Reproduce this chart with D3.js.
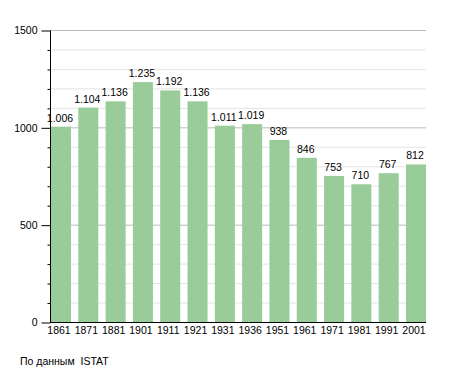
<!DOCTYPE html>
<html>
<head>
<meta charset="utf-8">
<script src="https://cdn.jsdelivr.net/npm/d3@7"></script>
<style>
  body { margin: 0; background: #fff; }
  text { font-family: "Liberation Sans", Arial, sans-serif; font-size: 10.5px; fill: #000; }
</style>
</head>
<body>
<div class="chart"></div>
<script>
var years = ["1861", "1871", "1881", "1901", "1911", "1921", "1931", "1936", "1951", "1961", "1971", "1981", "1991", "2001"];
var population = [1006, 1104, 1136, 1235, 1192, 1136, 1011, 1019, 938, 846, 753, 710, 767, 812];
var majorTicks = [0, 500, 1000, 1500];
var minorTicks = d3.range(0, 1501, 100);

var svgWidth = 455;
var svgHeight = 373;

var svg = d3.select(".chart")
  .append("svg")
  .attr("width", svgWidth)
  .attr("height", svgHeight);

var xScale = d3.scaleBand()
  .domain(years)
  .range([51, 426])
  .paddingInner(0.267)
  .paddingOuter(0);

var yScale = d3.scaleLinear()
  .domain([0, 1500])
  .range([322.5, 30.5]);

// grid lines, light ones every 100, darker every 500
svg.append("g")
  .selectAll("line")
  .data(minorTicks.filter(d => d % 500 != 0))
  .enter()
  .append("line")
  .attr("x1", 50)
  .attr("x2", 426)
  .attr("y1", d => yScale(d))
  .attr("y2", d => yScale(d))
  .attr("stroke", "#e4e4e4")
  .attr("stroke-width", 1);

svg.append("g")
  .selectAll("line")
  .data(majorTicks.filter(d => d > 0))
  .enter()
  .append("line")
  .attr("x1", 50)
  .attr("x2", 426)
  .attr("y1", d => yScale(d))
  .attr("y2", d => yScale(d))
  .attr("stroke", "#bbbbbb")
  .attr("stroke-width", 1);

// bars
svg.append("g")
  .selectAll("rect")
  .data(population)
  .enter()
  .append("rect")
  .attr("x", (d, i) => xScale(years[i]))
  .attr("y", d => yScale(d))
  .attr("width", xScale.bandwidth())
  .attr("height", d => yScale(0) - yScale(d))
  .attr("fill", "#99cc99");

// value labels
var fmt = d3.formatLocale({ decimal: ",", thousands: ".", grouping: [3], currency: ["", ""] }).format(",d");

svg.append("g")
  .selectAll("text")
  .data(population)
  .enter()
  .append("text")
  .attr("x", (d, i) => xScale(years[i]) + xScale.bandwidth() / 2 - 1)
  .attr("y", d => yScale(d) - 5)
  .attr("text-anchor", "middle")
  .text(d => fmt(d));

// y axis
var leftAxis = d3.axisLeft(yScale)
  .tickValues(minorTicks)
  .tickSize(3)
  .tickFormat(d => d % 500 == 0 ? d : "");

var yAxis = svg.append("g")
  .attr("transform", "translate(50.5, 0)")
  .call(leftAxis);

yAxis.select(".domain").attr("d", "M0," + yScale(1500) + "V" + yScale(0)).attr("stroke", "#000");
yAxis.selectAll(".tick line").attr("stroke", "#000");
yAxis.selectAll(".tick line").filter(d => d % 500 == 0).attr("x2", -9);
yAxis.selectAll("text")
  .attr("x", -13)
  .attr("font-size", null)
  .attr("font-family", null);

// x axis
var bottomAxis = d3.axisBottom(xScale)
  .tickSize(0);

var xAxis = svg.append("g")
  .attr("transform", "translate(0, 322.5)")
  .call(bottomAxis);

xAxis.select(".domain").attr("d", "M50,0H426").attr("stroke", "#000");
xAxis.selectAll("text")
  .attr("x", -2)
  .attr("y", 11.5)
  .attr("dy", null)
  .attr("font-size", null)
  .attr("font-family", null);

svg.append("text")
  .attr("x", 20)
  .attr("y", 365)
  .attr("xml:space", "preserve")
  .style("white-space", "pre")
  .text("По данным  ISTAT");
</script>
</body>
</html>
